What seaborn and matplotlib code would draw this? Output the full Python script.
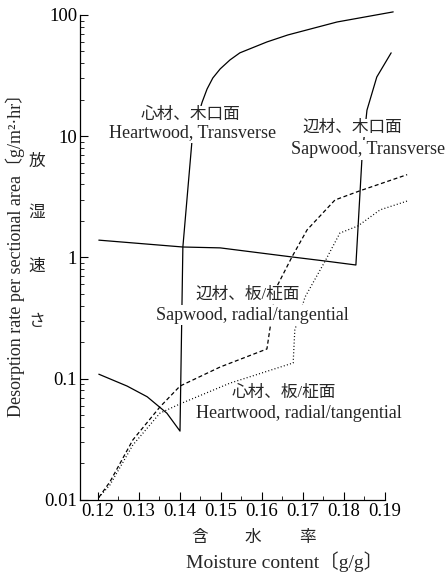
import numpy as np
import matplotlib
matplotlib.use("Agg")
import matplotlib.pyplot as plt
import matplotlib.ticker as mticker
import seaborn as sns

# heartwood, transverse (solid)
ht_x = [0.1202, 0.1271, 0.1320, 0.1368, 0.1400, 0.1407, 0.1429, 0.1441, 0.1454, 0.1466,
        0.1480, 0.1498, 0.1522, 0.1546, 0.1612, 0.1663, 0.1783, 0.1920]
ht_y = [0.109, 0.087, 0.071, 0.052, 0.037, 1.22, 8.97, 13.6, 19.1, 24.5,
        30.2, 35.9, 42.6, 48.7, 59.9, 68.4, 87.5, 106]

# sapwood, transverse (solid)
st_x = [0.1202, 0.1407, 0.1498, 0.1673, 0.1754, 0.1829, 0.1844, 0.1856, 0.1880, 0.1915]
st_y = [1.39, 1.22, 1.20, 1.01, 0.935, 0.867, 6.75, 16.4, 30.8, 48.7]

# sapwood, radial/tangential (dashed)
sr_x = [0.1202, 0.1229, 0.1285, 0.1351, 0.1400, 0.1498, 0.1612, 0.1620, 0.1632,
        0.1673, 0.1710, 0.1778, 0.1839, 0.1954]
sr_y = [0.0105, 0.0141, 0.0313, 0.0585, 0.087, 0.125, 0.176, 0.267, 0.54,
        1.01, 1.69, 2.98, 3.55, 4.82]

# heartwood, radial/tangential (dotted)
hr_x = [0.1202, 0.1229, 0.1285, 0.1351, 0.1400, 0.1522, 0.1676, 0.1680, 0.1705,
        0.1754, 0.1790, 0.1834, 0.1888, 0.1954]
hr_y = [0.0105, 0.0133, 0.0284, 0.052, 0.062, 0.092, 0.135, 0.252, 0.472,
        0.935, 1.59, 1.82, 2.47, 2.92]

x_ticks = [0.12, 0.13, 0.14, 0.15, 0.16, 0.17, 0.18, 0.19]
x_ticklabels = ["0.12", "0.13", "0.14", "0.15", "0.16", "0.17", "0.18", "0.19"]
y_ticks = [0.01, 0.1, 1, 10, 100]
y_ticklabels = ["0.01", "0.1", "1", "10", "100"]

sns.set_style("ticks")
plt.rcParams['font.family'] = ['Liberation Serif', 'Noto Sans CJK JP']
plt.rcParams['font.size'] = 12

W, H = 447, 573
fig = plt.figure(figsize=(W / 100, H / 100), dpi=100)
ax = fig.add_axes([80 / W, 73 / H, (409.6 - 80) / W, (500 - 7.6) / H])

lw = 0.9
sns.lineplot(x=ht_x, y=ht_y, sort=False, estimator=None, color="black", lw=lw, ax=ax)
sns.lineplot(x=st_x, y=st_y, sort=False, estimator=None, color="black", lw=lw, ax=ax)
sns.lineplot(x=sr_x, y=sr_y, sort=False, estimator=None, color="black", lw=lw,
             linestyle=(0, (3.2, 2.1)), ax=ax)
sns.lineplot(x=hr_x, y=hr_y, sort=False, estimator=None, color="black", lw=lw,
             linestyle=(0, (0.8, 1.8)), ax=ax)

ax.set_yscale("log")
ax.set_xlim(0.11561, 0.196)
ax.set_ylim(0.01, 115)
ax.spines['top'].set_visible(False)
ax.spines['right'].set_visible(False)
ax.spines['left'].set_bounds(0.01, 100)
ax.spines['bottom'].set_bounds(0.11561, 0.19)
for s in ['left', 'bottom']:
    ax.spines[s].set_linewidth(0.9)
    ax.spines[s].set_color("black")

ax.xaxis.set_major_locator(mticker.FixedLocator(x_ticks))
ax.xaxis.set_major_formatter(mticker.FixedFormatter(x_ticklabels))
ax.xaxis.set_minor_locator(mticker.FixedLocator([0.125, 0.135, 0.145, 0.155, 0.165, 0.175, 0.185]))
ax.yaxis.set_major_locator(mticker.FixedLocator(y_ticks))
ax.yaxis.set_major_formatter(mticker.FixedFormatter(y_ticklabels))
ax.yaxis.set_minor_locator(mticker.LogLocator(base=10, subs=np.arange(2, 10)))
ax.yaxis.set_minor_formatter(mticker.NullFormatter())
ax.tick_params(which="major", direction="in", length=6, width=0.8, pad=2, labelsize=13.5, colors="black")
ax.tick_params(which="minor", direction="in", length=3, width=0.7)
ax.set_xlabel("")
ax.set_ylabel("")


def ftext(px, py, s, **kw):
    fig.text(px / W, 1 - py / H, s, ha="center", va="center", **kw)


box = dict(facecolor="white", edgecolor="none", pad=1)
fs_en, fs_jp = 13, 12
ftext(190, 115, "心材、木口面", fontsize=fs_jp, bbox=box)
ftext(193, 133, "Heartwood, Transverse", fontsize=fs_en, bbox=box)
ftext(352, 128, "辺材、木口面", fontsize=fs_jp, bbox=box)
ftext(368, 150, "Sapwood, Transverse", fontsize=fs_en, bbox=box)
ftext(248, 295, "辺材、板/柾面", fontsize=fs_jp, bbox=box)
ftext(252, 315, "Sapwood, radial/tangential", fontsize=fs_en, bbox=box)
ftext(284, 393, "心材、板/柾面", fontsize=fs_jp, bbox=box)
ftext(299, 413, "Heartwood, radial/tangential", fontsize=fs_en, bbox=box)

# axis titles
ftext(15, 251, "Desorption rate per sectional area〔g/m²·hr〕", fontsize=fs_en, rotation=90)
for ch, py in zip(["放", "湿", "速", "さ"], [162, 213, 267, 322]):
    ftext(37, py, ch, fontsize=fs_jp)
for ch, px in zip(["含", "水", "率"], [200, 253, 307]):
    ftext(px, 538, ch, fontsize=fs_jp)
ftext(285, 562, "Moisture content〔g/g〕", fontsize=14)

fig.savefig("out.png", dpi=100)
